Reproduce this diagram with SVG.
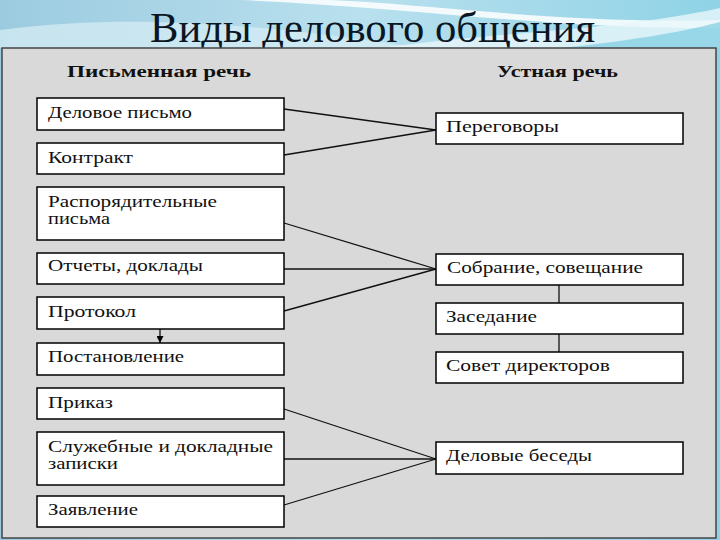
<svg xmlns="http://www.w3.org/2000/svg" width="720" height="540" viewBox="0 0 720 540">
<defs>
<linearGradient id="bg" x1="0" y1="0" x2="1" y2="0">
<stop offset="0" stop-color="#9ccbe0"/>
<stop offset="0.5" stop-color="#b9e0ee"/>
<stop offset="1" stop-color="#8fd3e6"/>
</linearGradient>
<marker id="ah" viewBox="0 0 10 10" refX="10" refY="5" markerWidth="7" markerHeight="7" orient="auto" markerUnits="userSpaceOnUse">
<path d="M0,0 L10,5 L0,10 z" fill="#000"/>
</marker>
<style>
.box{fill:#fff;stroke:#000;stroke-width:1.5}
text{font-family:'Liberation Serif','Times New Roman',serif}
.t{font-size:16px;fill:#111}
.h{font-size:16px;font-weight:bold;fill:#111}
.c{stroke:#111;stroke-width:1.3;fill:none}
</style>
</defs>
<rect x="0" y="0" width="720" height="540" fill="url(#bg)"/>
<path d="M0,30 C150,10 300,30 420,48 L0,48 z" fill="#d8eef5" opacity="0.7"/>
<path d="M240,0 C420,8 560,30 720,28 L720,20 C560,24 430,4 330,0 z" fill="#ffffff" opacity="0.85"/>
<path d="M380,48 C520,30 620,30 720,8 L720,48 z" fill="#e8f6fa" opacity="0.8"/>
<path d="M560,48 C640,40 690,30 720,22 L720,48 z" fill="#6cc6de" opacity="0.6"/>
<text x="150" y="42" font-family="Liberation Serif" font-size="42" fill="#0b1624" textLength="445" lengthAdjust="spacingAndGlyphs">Виды делового общения</text>
<rect x="2" y="48" width="714" height="490" fill="#d9d9d9" stroke="#444" stroke-width="1.5"/>
<text class="h" x="67" y="77" textLength="184" lengthAdjust="spacingAndGlyphs">Письменная речь</text>
<text class="h" x="497" y="77" textLength="121" lengthAdjust="spacingAndGlyphs">Устная речь</text>
<g id="connectors">
<line class="c" x1="284" y1="109" x2="436" y2="130"/>
<line class="c" x1="284" y1="155" x2="436" y2="130"/>
<line class="c" x1="284" y1="223" x2="436" y2="269"/>
<line class="c" x1="284" y1="269" x2="436" y2="269"/>
<line class="c" x1="284" y1="311" x2="436" y2="269"/>
<line class="c" x1="284" y1="409" x2="436" y2="459"/>
<line class="c" x1="284" y1="459" x2="436" y2="459"/>
<line class="c" x1="284" y1="505" x2="436" y2="459"/>
<line class="c" x1="559" y1="285" x2="559" y2="303"/>
<line class="c" x1="559" y1="334" x2="559" y2="352"/>
<line class="c" x1="160" y1="329" x2="160" y2="343" marker-end="url(#ah)"/>
</g>
<g id="n1"><rect class="box" x="37" y="98" width="247" height="32"/><text class="t" x="48" y="118" textLength="144" lengthAdjust="spacingAndGlyphs">Деловое письмо</text></g>
<g id="n2"><rect class="box" x="37" y="143" width="247" height="31"/><text class="t" x="48" y="163" textLength="85" lengthAdjust="spacingAndGlyphs">Контракт</text></g>
<g id="n3"><rect class="box" x="37" y="187" width="247" height="53"/><text class="t" x="48" y="207" textLength="169" lengthAdjust="spacingAndGlyphs">Распорядительные</text><text class="t" x="48" y="224" textLength="62" lengthAdjust="spacingAndGlyphs">письма</text></g>
<g id="n4"><rect class="box" x="37" y="253" width="247" height="31"/><text class="t" x="48" y="271" textLength="155" lengthAdjust="spacingAndGlyphs">Отчеты, доклады</text></g>
<g id="n5"><rect class="box" x="37" y="297" width="247" height="32"/><text class="t" x="48" y="317" textLength="88" lengthAdjust="spacingAndGlyphs">Протокол</text></g>
<g id="n6"><rect class="box" x="37" y="343" width="247" height="32"/><text class="t" x="48" y="362" textLength="136" lengthAdjust="spacingAndGlyphs">Постановление</text></g>
<g id="n7"><rect class="box" x="37" y="388" width="247" height="31"/><text class="t" x="48" y="408" textLength="65" lengthAdjust="spacingAndGlyphs">Приказ</text></g>
<g id="n8"><rect class="box" x="37" y="432" width="247" height="53"/><text class="t" x="48" y="452" textLength="225" lengthAdjust="spacingAndGlyphs">Служебные и докладные</text><text class="t" x="48" y="469" textLength="70" lengthAdjust="spacingAndGlyphs">записки</text></g>
<g id="n9"><rect class="box" x="37" y="496" width="247" height="31"/><text class="t" x="48" y="515" textLength="90" lengthAdjust="spacingAndGlyphs">Заявление</text></g>
<g id="r1"><rect class="box" x="436" y="113" width="247" height="31"/><text class="t" x="446" y="132" textLength="113" lengthAdjust="spacingAndGlyphs">Переговоры</text></g>
<g id="r2"><rect class="box" x="436" y="254" width="247" height="31"/><text class="t" x="447" y="273" textLength="196" lengthAdjust="spacingAndGlyphs">Собрание, совещание</text></g>
<g id="r3"><rect class="box" x="436" y="303" width="247" height="31"/><text class="t" x="446" y="322" textLength="91" lengthAdjust="spacingAndGlyphs">Заседание</text></g>
<g id="r4"><rect class="box" x="436" y="352" width="247" height="31"/><text class="t" x="446" y="371" textLength="164" lengthAdjust="spacingAndGlyphs">Совет директоров</text></g>
<g id="r5"><rect class="box" x="436" y="442" width="247" height="32"/><text class="t" x="446" y="461" textLength="146" lengthAdjust="spacingAndGlyphs">Деловые беседы</text></g>
</svg>
